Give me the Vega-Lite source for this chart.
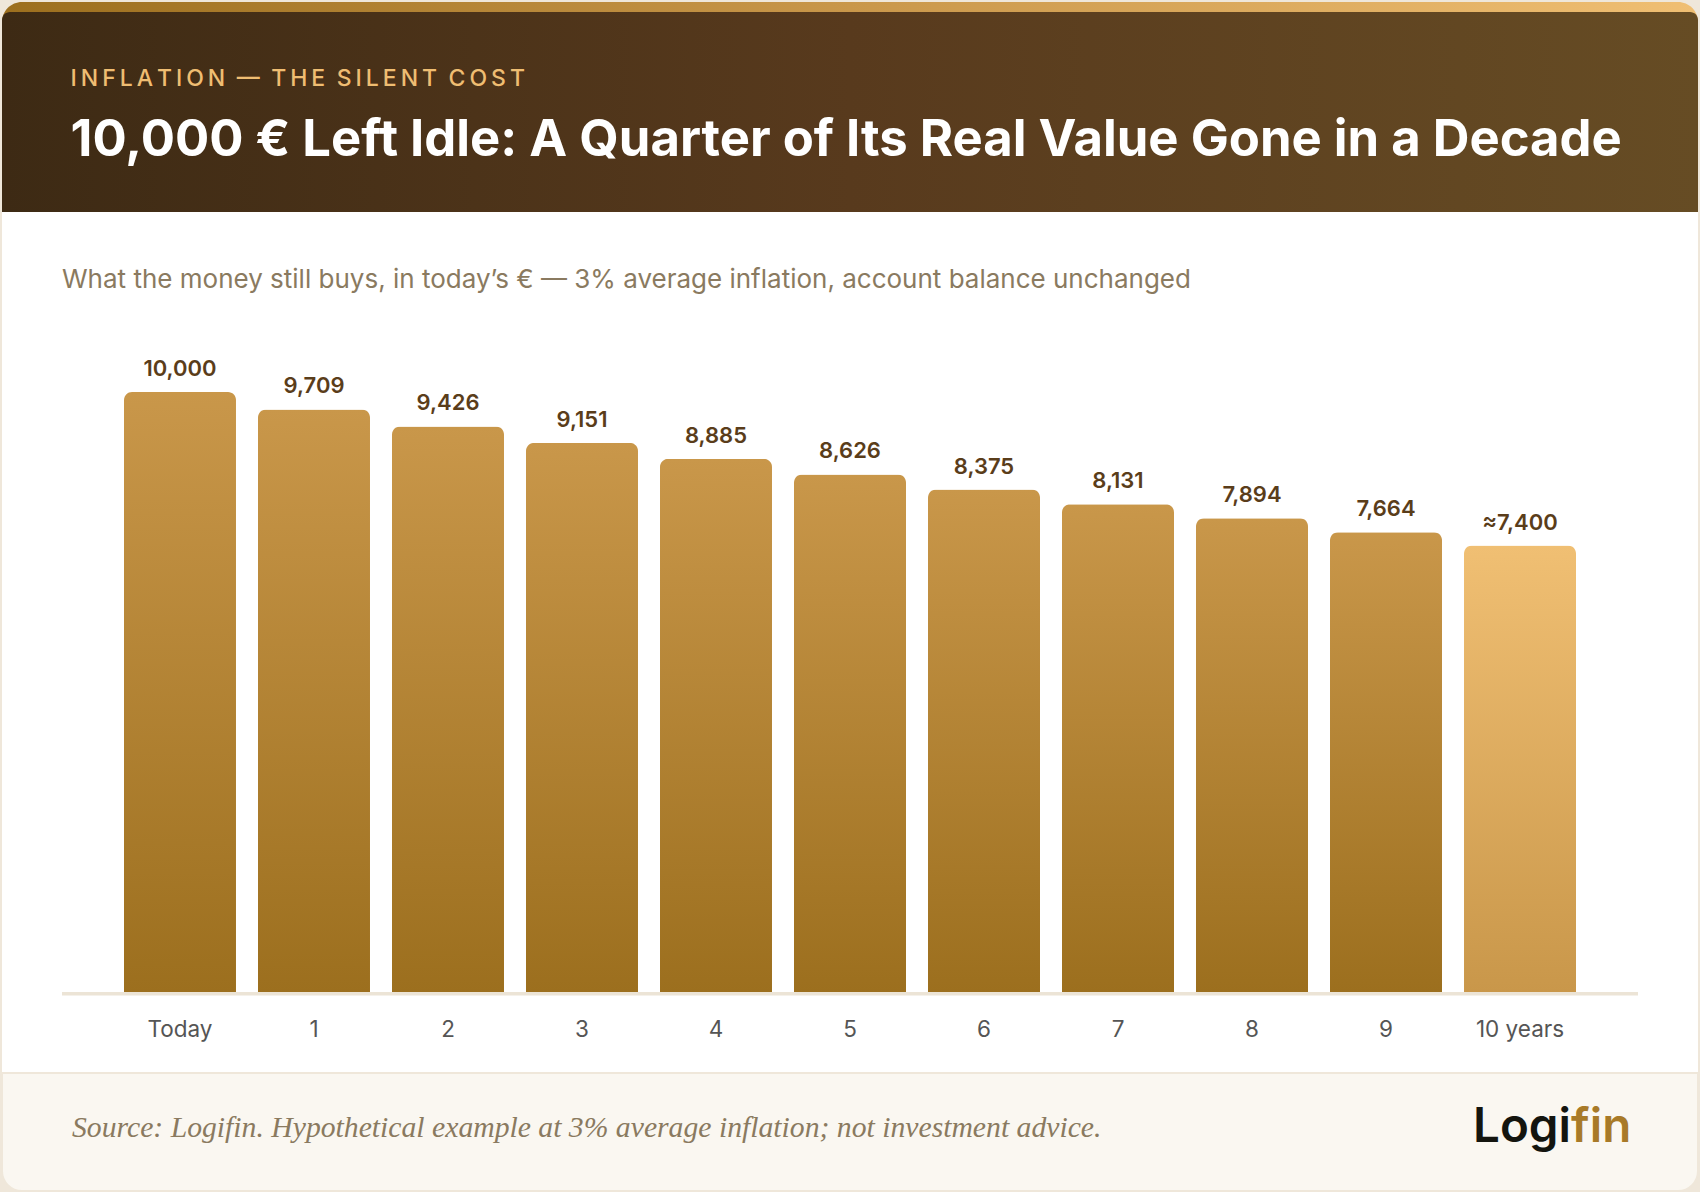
{
  "$schema": "https://vega.github.io/schema/vega-lite/v6.json",
  "description": "Real value of 10,000 euro left idle for ten years at 3% inflation.",
  "background": "#efe7da",
  "padding": {"left": 1, "right": 1, "top": 2, "bottom": 1},
  "spacing": 0,
  "config": {"view": {"stroke": null}},
  "datasets": {
    "years": [
      {"year": "Today", "value": 10000, "label": "10,000"},
      {"year": "1", "value": 9709, "label": "9,709"},
      {"year": "2", "value": 9426, "label": "9,426"},
      {"year": "3", "value": 9151, "label": "9,151"},
      {"year": "4", "value": 8885, "label": "8,885"},
      {"year": "5", "value": 8626, "label": "8,626"},
      {"year": "6", "value": 8375, "label": "8,375"},
      {"year": "7", "value": 8131, "label": "8,131"},
      {"year": "8", "value": 7894, "label": "7,894"},
      {"year": "9", "value": 7664, "label": "7,664"},
      {"year": "10 years", "value": 7441, "label": "≈7,400"}
    ],
    "heading": [
      {"line": "kicker", "text": "I\u2009N\u2009F\u2009L\u2009A\u2009T\u2009I\u2009O\u2009N\u2002—\u2002T\u2009H\u2009E\u2002S\u2009I\u2009L\u2009E\u2009N\u2009T\u2002C\u2009O\u2009S\u2009T"},
      {"line": "title", "text": "10,000 € Left Idle: A Quarter of Its Real Value Gone in a Decade"}
    ],
    "foot": [
      {"part": "note", "spot": "left", "text": "Source: Logifin. Hypothetical example at 3% average inflation; not investment advice."},
      {"part": "logi", "spot": "logo", "text": "Logi"},
      {"part": "fin", "spot": "logo", "text": "fin"}
    ]
  },
  "vconcat": [
    {
      "width": 1696,
      "height": 210,
      "resolve": {"scale": {"y": "independent"}},
      "layer": [
        {
          "data": {"values": [{"panel": "stripe"}]},
          "mark": {
            "type": "rect",
            "cornerRadiusTopLeft": 20,
            "cornerRadiusTopRight": 20,
            "fill": {
              "gradient": "linear", "x1": 0, "y1": 0, "x2": 1, "y2": 0,
              "stops": [
                {"offset": 0, "color": "#9c6f1e"},
                {"offset": 0.5, "color": "#c9974a"},
                {"offset": 1, "color": "#f0bf73"}
              ]
            }
          }
        },
        {
          "data": {"values": [{"panel": "header"}]},
          "mark": {
            "type": "rect",
            "cornerRadiusTopLeft": 8,
            "cornerRadiusTopRight": 8,
            "fill": {
              "gradient": "linear", "x1": 0, "y1": 0, "x2": 1, "y2": 0,
              "stops": [
                {"offset": 0, "color": "#3d2a14"},
                {"offset": 0.5, "color": "#583a1d"},
                {"offset": 1, "color": "#664c24"}
              ]
            }
          },
          "encoding": {
            "y": {"datum": 0, "type": "quantitative", "axis": null, "scale": {"domain": [0, 1], "range": [10, 210]}},
            "y2": {"datum": 1}
          }
        },
        {
          "data": {"name": "heading"},
          "encoding": {
            "x": {"field": "line", "type": "nominal", "axis": null, "scale": {"type": "point", "domain": ["kicker", "title"], "range": [68.5, 68.5]}},
            "y": {"field": "line", "type": "nominal", "axis": null, "scale": {"type": "point", "padding": 0, "domain": ["kicker", "title"], "range": [84, 154]}},
            "text": {"field": "text"}
          },
          "layer": [
            {
              "transform": [{"filter": "datum.line == 'kicker'"}],
              "mark": {"type": "text", "align": "left", "baseline": "alphabetic", "font": "Inter", "fontSize": 23, "fontWeight": 500, "color": "#efbd72"}
            },
            {
              "transform": [{"filter": "datum.line == 'title'"}],
              "mark": {"type": "text", "align": "left", "baseline": "alphabetic", "font": "Inter", "fontSize": 50.8, "fontWeight": 700, "color": "#ffffff"}
            }
          ]
        }
      ]
    },
    {
      "width": 1696,
      "height": 860,
      "view": {"fill": "#ffffff"},
      "title": {
        "text": "What the money still buys, in today’s € — 3% average inflation, account balance unchanged",
        "anchor": "start",
        "frame": "group",
        "orient": "top",
        "baseline": "alphabetic",
        "offset": -102,
        "dx": 60,
        "font": "Inter",
        "fontSize": 26,
        "fontWeight": 400,
        "color": "#8a7a60"
      },
      "resolve": {"scale": {"x": "independent"}},
      "layer": [
        {
          "data": {"name": "years"},
          "encoding": {
            "x": {
              "field": "year",
              "type": "nominal",
              "sort": null,
              "title": null,
              "scale": {"type": "band", "paddingInner": 0.16418, "paddingOuter": 0.9104},
              "axis": {
                "domain": false,
                "ticks": false,
                "offset": -80,
                "labelAngle": 0,
                "labelBaseline": "alphabetic",
                "labelPadding": 44,
                "labelFont": "Inter",
                "labelFontSize": 22.5,
                "labelColor": "#555555"
              }
            },
            "y": {
              "field": "value",
              "type": "quantitative",
              "axis": null,
              "scale": {"domain": [-1333.33, 13000], "nice": false, "zero": false}
            }
          },
          "layer": [
            {
              "mark": {"type": "bar", "cornerRadiusTopLeft": 8, "cornerRadiusTopRight": 8},
              "encoding": {
                "color": {
                  "condition": {
                    "test": "datum.year == '10 years'",
                    "value": {
                      "gradient": "linear", "x1": 0, "y1": 0, "x2": 0, "y2": 1,
                      "stops": [{"offset": 0, "color": "#f0bf73"}, {"offset": 1, "color": "#c9974a"}]
                    }
                  },
                  "value": {
                    "gradient": "linear", "x1": 0, "y1": 0, "x2": 0, "y2": 1,
                    "stops": [{"offset": 0, "color": "#c9974a"}, {"offset": 1, "color": "#9c6f1e"}]
                  }
                }
              }
            },
            {
              "mark": {"type": "text", "baseline": "alphabetic", "dy": -16, "font": "Inter", "fontSize": 22, "fontWeight": 600, "color": "#5a3d1a"},
              "encoding": {"text": {"field": "label"}}
            }
          ]
        },
        {
          "data": {"values": [{"line": "baseline"}]},
          "mark": {"type": "rule", "color": "#ece4d6", "strokeWidth": 3.5, "yOffset": 1.75},
          "encoding": {
            "x": {"datum": 0, "type": "quantitative", "axis": null, "scale": {"domain": [0, 1], "range": [60, 1636]}},
            "x2": {"datum": 1},
            "y": {"datum": 0, "type": "quantitative"}
          }
        }
      ]
    },
    {
      "width": 1696,
      "height": 118,
      "layer": [
        {
          "data": {"values": [{"panel": "footer"}]},
          "mark": {
            "type": "rect",
            "fill": "#faf7f1",
            "stroke": "#efe7da",
            "strokeWidth": 2,
            "cornerRadiusBottomLeft": 20,
            "cornerRadiusBottomRight": 20
          }
        },
        {
          "data": {"name": "foot"},
          "encoding": {
            "x": {"field": "spot", "type": "nominal", "axis": null, "scale": {"type": "point", "padding": 0, "domain": ["left", "logo"], "range": [70, 1569]}},
            "y": {"field": "spot", "type": "nominal", "axis": null, "scale": {"type": "point", "padding": 0, "domain": ["left", "logo"], "range": [64, 69]}},
            "text": {"field": "text"}
          },
          "layer": [
            {
              "transform": [{"filter": "datum.part == 'note'"}],
              "mark": {"type": "text", "align": "left", "baseline": "alphabetic", "font": "Liberation Serif", "fontStyle": "italic", "fontSize": 29.7, "color": "#8a7a60"}
            },
            {
              "transform": [{"filter": "datum.part == 'logi'"}],
              "mark": {"type": "text", "align": "right", "baseline": "alphabetic", "font": "Inter", "fontSize": 47.5, "fontWeight": 600, "color": "#14150f"}
            },
            {
              "transform": [{"filter": "datum.part == 'fin'"}],
              "mark": {"type": "text", "align": "left", "baseline": "alphabetic", "font": "Inter", "fontSize": 47.5, "fontWeight": 600, "color": "#a87a28"}
            }
          ]
        }
      ]
    }
  ]
}
